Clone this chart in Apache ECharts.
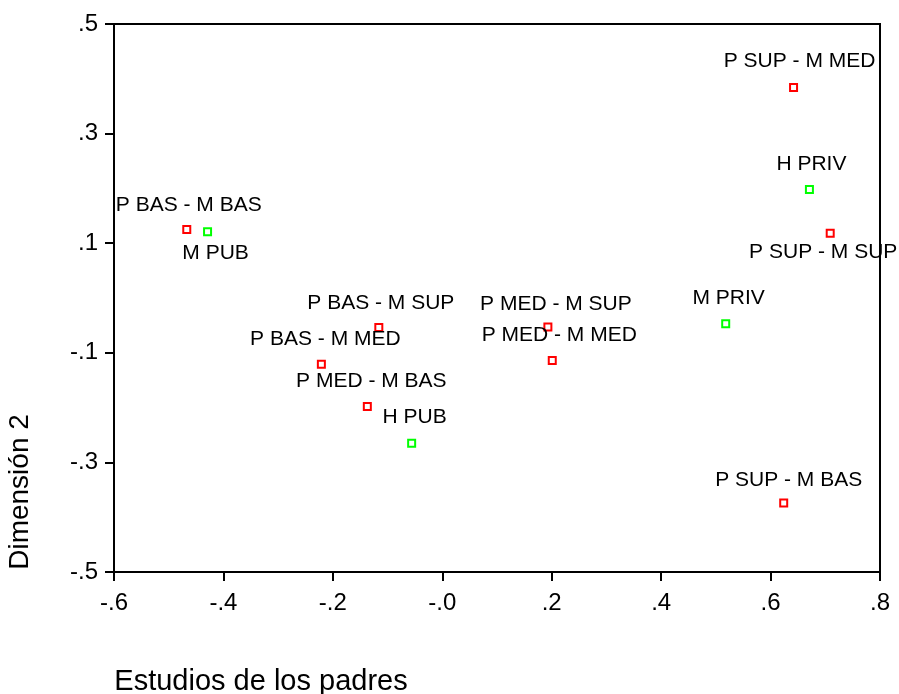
<!DOCTYPE html>
<html>
<head>
<meta charset="utf-8">
<script src="https://cdn.jsdelivr.net/npm/echarts@6/dist/echarts.min.js"></script>
<style>
html,body{margin:0;padding:0;background:#fff;}
#chart{width:899px;height:694px;}
</style>
</head>
<body>
<div id="chart"></div>
<script>
// Data: parents' education categories (red)
var eduNames = ['P BAS - M BAS', 'P BAS - M MED', 'P BAS - M SUP', 'P MED - M BAS', 'P MED - M MED', 'P MED - M SUP', 'P SUP - M BAS', 'P SUP - M MED', 'P SUP - M SUP'];
var eduX = [-0.467, -0.221, -0.116, -0.137, 0.201, 0.193, 0.624, 0.642, 0.709];
var eduY = [0.125, -0.121, -0.054, -0.198, -0.114, -0.053, -0.374, 0.384, 0.118];
// School type categories (green)
var schoolNames = ['M PUB', 'M PRIV', 'H PUB', 'H PRIV'];
var schoolX = [-0.429, 0.518, -0.056, 0.671];
var schoolY = [0.121, -0.047, -0.265, 0.198];
// Tick labels
var xTickValues = [-0.6, -0.4, -0.2, 0, 0.2, 0.4, 0.6, 0.8];
var xTickLabels = ['-.6', '-.4', '-.2', '-.0', '.2', '.4', '.6', '.8'];
var yTickValues = [-0.5, -0.3, -0.1, 0.1, 0.3, 0.5];
var yTickLabels = ['-.5', '-.3', '-.1', '.1', '.3', '.5'];
var xAxisName = 'Estudios de los padres';
var yAxisName = 'Dimensión 2';

// Label placement (style only)
var labelStyle = {
  'P BAS - M BAS': {pos: 'top', dx: 2, d: 9},
  'M PUB': {pos: 'bottom', dx: 8, d: 7},
  'P SUP - M MED': {pos: 'top', dx: 6, d: 11},
  'H PRIV': {pos: 'top', dx: 2, d: 10},
  'P SUP - M SUP': {pos: 'bottom', dx: -7, d: 4},
  'P BAS - M SUP': {pos: 'top', dx: 2, d: 9},
  'P BAS - M MED': {pos: 'top', dx: 4, d: 10},
  'P MED - M BAS': {pos: 'top', dx: 4, d: 10},
  'H PUB': {pos: 'top', dx: 3, d: 11},
  'P MED - M SUP': {pos: 'top', dx: 8, d: 8},
  'P MED - M MED': {pos: 'top', dx: 7, d: 10},
  'M PRIV': {pos: 'top', dx: 3, d: 11},
  'P SUP - M BAS': {pos: 'top', dx: 5, d: 8}
};

function buildData(names, xs, ys) {
  return names.map(function (n, i) {
    var s = labelStyle[n] || {pos: 'top', dx: 0, d: 10};
    return {
      name: n,
      value: [xs[i], ys[i]],
      label: {position: s.pos, distance: s.d, offset: [s.dx, 0]}
    };
  });
}

function tickFmt(values, labels) {
  return function (v) {
    for (var i = 0; i < values.length; i++) {
      if (Math.abs(values[i] - v) < 1e-6) return labels[i];
    }
    return '';
  };
}

var font = 'Liberation Sans, Arial, sans-serif';

var chart = echarts.init(document.getElementById('chart'));
chart.setOption({
  animation: false,
  backgroundColor: '#fff',
  grid: {left: 114, top: 24, right: 19, bottom: 122, containLabel: false, outerBoundsMode: 'none',
         show: true, borderColor: '#000', borderWidth: 2, backgroundColor: 'transparent'},
  xAxis: {
    type: 'value', min: -0.6, max: 0.8, interval: 0.2,
    name: xAxisName, nameLocation: 'middle', nameGap: 95,
    nameTextStyle: {fontFamily: font, fontSize: 29, color: '#000', padding: [0, 472, 0, 0]},
    axisLine: {onZero: false, lineStyle: {color: '#000', width: 2}},
    axisTick: {show: true, inside: false, length: 9, lineStyle: {color: '#000', width: 2}},
    axisLabel: {fontFamily: font, fontSize: 24, color: '#000', margin: 19, formatter: tickFmt(xTickValues, xTickLabels)},
    splitLine: {show: false}
  },
  yAxis: {
    type: 'value', min: -0.5, max: 0.5, interval: 0.2,
    name: yAxisName, nameLocation: 'middle', nameGap: 80, nameRotate: 90,
    nameTextStyle: {fontFamily: font, fontSize: 28, color: '#000', padding: [0, 388, 0, 0]},
    axisLine: {onZero: false, lineStyle: {color: '#000', width: 2}},
    axisTick: {show: true, inside: false, length: 9, lineStyle: {color: '#000', width: 2}},
    axisLabel: {fontFamily: font, fontSize: 24, color: '#000', margin: 16, formatter: tickFmt(yTickValues, yTickLabels)},
    splitLine: {show: false}
  },
  series: [
    {
      type: 'scatter', name: 'Estudios',
      symbol: 'rect', symbolSize: 7,
      itemStyle: {color: '#fff', borderColor: '#ff0000', borderWidth: 2, opacity: 1},
      label: {show: true, formatter: '{b}', fontFamily: font, fontSize: 21, color: '#000'},
      data: buildData(eduNames, eduX, eduY)
    },
    {
      type: 'scatter', name: 'Centro',
      symbol: 'rect', symbolSize: 7,
      itemStyle: {color: '#fff', borderColor: '#00ff00', borderWidth: 2, opacity: 1},
      label: {show: true, formatter: '{b}', fontFamily: font, fontSize: 21, color: '#000'},
      data: buildData(schoolNames, schoolX, schoolY)
    }
  ]
});
</script>
</body>
</html>
